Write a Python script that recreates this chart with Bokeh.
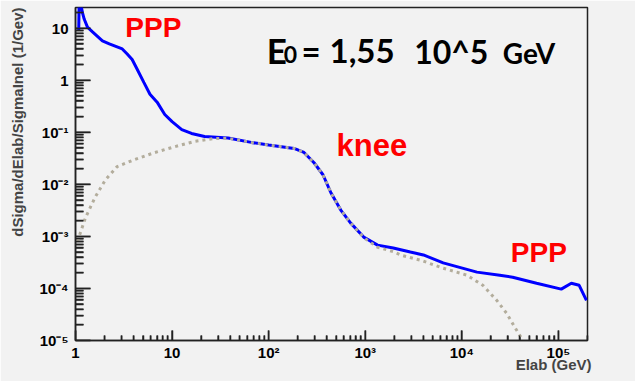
import math
from bokeh.plotting import figure
from bokeh.models import Range1d, FixedTicker, CustomJSTickFormatter, Label, Title
from bokeh.embed import file_html
from bokeh.resources import INLINE

# ---------------- data ----------------
total_e = [1.08, 1.09, 1.13, 1.18, 1.23, 1.33, 1.5, 1.9, 2.24, 3.05, 3.43, 3.86, 4.35,
           5.1, 5.9, 7.0, 8.4, 10, 12.6, 15.9, 21.7, 38, 66, 100, 183, 232, 295, 365,
           441, 558, 707, 963, 1342, 1950, 2930, 4000, 6410, 14330, 24700, 33600,
           59400, 107000, 136000, 164000, 195000]
total_v = [9, 30, 30, 20, 15, 10.5, 8.5, 5.7, 5.0, 4.0, 3.2, 2.5, 1.63,
           0.91, 0.54, 0.38, 0.22, 0.16, 0.113, 0.095, 0.083, 0.078, 0.064, 0.057, 0.049,
           0.041, 0.026, 0.0153, 0.0069, 0.0032, 0.0018, 0.00097, 0.00068, 0.0006, 0.0005,
           4.4e-4, 3.1e-4, 2.06e-4, 1.8e-4, 1.64e-4, 1.26e-4, 9.7e-5, 1.26e-4, 1.15e-4, 5.9e-5]

part_e = [1.05, 1.1, 1.27, 1.6, 2.04, 2.7, 4.1, 6.65, 10.7, 17.2, 27.6, 38, 66, 100, 183,
          232, 295, 365, 441, 558, 707, 963, 1342, 1950, 2312, 3720, 6410, 11300, 16500,
          23000, 29200, 35300, 41600, 44000]
part_v = [8e-4, 1.05e-3, 2.3e-3, 5.7e-3, 0.0122, 0.022, 0.030, 0.041, 0.053, 0.067, 0.076,
          0.077, 0.064, 0.057, 0.049, 0.041, 0.026, 0.0153, 0.0069, 0.0032, 0.0018, 0.00095,
          0.00062, 0.00051, 4.4e-4, 3.5e-4, 2.45e-4, 1.8e-4, 1.15e-4, 5.9e-5, 3.3e-5, 1.8e-5,
          1.1e-5, 8e-6]

x_tick_vals = [1, 10, 100, 1e3, 1e4, 1e5]
x_tick_labels = ["1", "10", "10²", "10³", "10⁴", "10⁵"]
y_tick_vals = [1e-5, 1e-4, 1e-3, 1e-2, 1e-1, 1, 10]
y_tick_labels = ["10⁻⁵", "10⁻⁴", "10⁻³", "10⁻²", "10⁻¹", "1", "10"]

x_title = "Elab (GeV)"
y_title = "dSigma/dElab/SigmaInel (1/Gev)"

# ---------------- layout constants ----------------
X0, X1 = 1, 2e5
Y0, Y1 = 1e-5, 25
W, H = 635, 381
BL, BR, BT, BB = 73, 48, 7, 41
FW, FH = W - BL - BR, H - BT - BB
px_x = FW / math.log10(X1 / X0)   # pixels per decade along x
px_y = FH / math.log10(Y1 / Y0)   # pixels per decade along y

BG = "#f2f2f2"
AX = "#222222"
p = figure(width=W, height=H, x_axis_type="log", y_axis_type="log",
           x_range=Range1d(X0, X1), y_range=Range1d(Y0, Y1),
           output_backend="svg", toolbar_location=None, title=None,
           background_fill_color=BG, border_fill_color=BG,
           min_border_left=BL, min_border_right=BR, min_border_top=BT, min_border_bottom=BB)
p.outline_line_color = AX
p.outline_line_width = 1.5
p.grid.visible = False

x_minor = [m * 10 ** k for k in range(0, 6) for m in range(2, 10) if m * 10 ** k <= X1]
y_minor = [m * 10.0 ** k for k in range(-5, 2) for m in range(2, 10) if m * 10.0 ** k <= Y1]
p.xaxis.ticker = FixedTicker(ticks=x_tick_vals, minor_ticks=x_minor)
p.yaxis.ticker = FixedTicker(ticks=y_tick_vals, minor_ticks=y_minor)

fmt_code = """
let best = 0, bd = 1e9;
for (let i = 0; i < vals.length; i++) {
  const d = Math.abs(Math.log10(vals[i]) - Math.log10(tick));
  if (d < bd) { bd = d; best = i; }
}
return labs[best];
"""
p.xaxis.formatter = CustomJSTickFormatter(args=dict(vals=x_tick_vals, labs=x_tick_labels), code=fmt_code)
p.yaxis.formatter = CustomJSTickFormatter(args=dict(vals=y_tick_vals, labs=y_tick_labels), code=fmt_code)

for ax in (p.xaxis[0], p.yaxis[0]):
    ax.axis_line_color = AX
    ax.axis_line_width = 1.5
    ax.major_tick_line_color = AX
    ax.minor_tick_line_color = AX
    ax.major_tick_line_width = 1.5
    ax.minor_tick_line_width = 1.5
    ax.major_tick_out = 0
    ax.minor_tick_out = 0
    ax.axis_label_standoff = 0
    ax.major_label_text_font = "Liberation Sans"
    ax.major_label_text_font_style = "bold"
    ax.major_label_text_font_size = "15px"
    ax.major_label_text_color = "black"
p.xaxis.major_tick_in = 10
p.xaxis.minor_tick_in = 5
p.yaxis.major_tick_in = 15
p.yaxis.minor_tick_in = 8
p.xaxis.major_label_standoff = 3
p.yaxis.major_label_standoff = 7

# inward ticks (ROOT style) also drawn as short lines inside the frame
ymaj_len, ymin_len = 15, 8   # px
xmaj_len, xmin_len = 10, 5   # px
tick_xs, tick_ys = [], []
for t in y_tick_vals + y_minor:
    L = ymaj_len if t in y_tick_vals else ymin_len
    tick_xs.append([X0, X0 * 10 ** (L / px_x)])
    tick_ys.append([t, t])
for t in x_tick_vals + x_minor:
    L = xmaj_len if t in x_tick_vals else xmin_len
    tick_xs.append([t, t])
    tick_ys.append([Y0, Y0 * 10 ** (L / px_y)])
p.multi_line(xs=tick_xs, ys=tick_ys, line_color=AX, line_width=1.5)

# ---------------- curves ----------------
p.line(total_e, total_v, line_color="#0000ff", line_width=3)
p.line(part_e, part_v, line_color="#b3ad9c", line_width=3, line_dash="3 4")

# ---------------- axis titles (ROOT style: aligned to the axis end) ----------------
p.add_layout(Title(text=y_title, align="right", vertical_align="top", text_font="Liberation Sans",
                   text_font_style="bold", text_font_size="15px", standoff=17), "left")
p.add_layout(Title(text=x_title, align="right", vertical_align="top", text_font="Liberation Sans",
                   text_font_style="bold", text_font_size="15px", standoff=-16, offset=-4), "below")

# ---------------- annotations ----------------
def px_to_x(px):
    return X0 * 10 ** ((px - BL) / px_x)

def px_to_y(py):
    return Y0 * 10 ** ((BT + FH - py) / px_y)

def fsize(s):
    return float(s.replace("px", ""))

RED = "#ff0000"
for (pxx, pyy), txt, size in [((123, 38), "PPP", "28px"), ((335, 157), "knee", "31px"),
                              ((510, 263), "PPP", "28px")]:
    p.add_layout(Label(x=px_to_x(pxx), y=px_to_y(pyy - 0.38 * fsize(size)), text=txt,
                       text_color=RED, text_font="Liberation Sans", text_font_style="bold",
                       text_font_size=size, text_baseline="alphabetic"))

e0_parts = [(265, "E", "35px"), (282, "0", "23px"), (300, "=", "33px"), (328, "1,55", "33px"),
            (413, "10^5", "32px"), (502, "GeV", "28px")]
for pxx, txt, size in e0_parts:
    p.add_layout(Label(x=px_to_x(pxx), y=px_to_y(63 - 0.38 * fsize(size)), text=txt,
                       text_color="black", text_font="Lato", text_font_style="bold",
                       text_font_size=size, text_baseline="alphabetic"))

open("out.html", "w").write(file_html(p, INLINE))
